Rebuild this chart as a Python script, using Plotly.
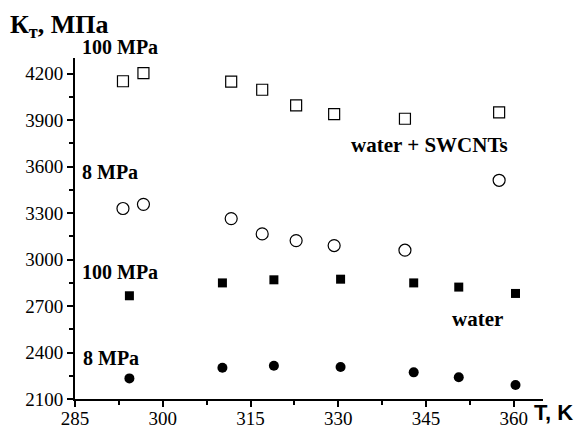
import plotly.graph_objects as go

# Data
T_swcnt = [293.2, 296.7, 311.7, 317.0, 322.8, 329.3, 341.4, 357.5]
K_swcnt_100 = [4150, 4203, 4147, 4095, 3994, 3938, 3908, 3949]
K_swcnt_8 = [3329, 3356, 3264, 3165, 3122, 3090, 3060, 3511]

T_water = [294.3, 310.2, 319.0, 330.4, 342.9, 350.6, 360.3]
K_water_100 = [2766, 2849, 2869, 2873, 2849, 2822, 2781]
K_water_8 = [2233, 2302, 2315, 2306, 2272, 2240, 2190]

x_ticks = [285, 300, 315, 330, 345, 360]
y_ticks = [2100, 2400, 2700, 3000, 3300, 3600, 3900, 4200]

SERIF = "Liberation Serif"

# page has an 8px body margin; figure is drawn from (8, 8)
OFF = 8
W, H = 584 - OFF, 428 - OFF
# plot area in page pixels
L, R, TOP, BOT = 75, 543, 58, 399

def px(xp):
    return (xp - L) / (R - L)

def py(yp):
    return (BOT - yp) / (BOT - TOP)

fig = go.Figure()
fig.add_trace(go.Scatter(x=T_swcnt, y=K_swcnt_100, mode="markers",
                         marker=dict(symbol="square-open", size=11, color="black", line=dict(width=1.2))))
fig.add_trace(go.Scatter(x=T_swcnt, y=K_swcnt_8, mode="markers",
                         marker=dict(symbol="circle-open", size=12, color="black", line=dict(width=1.2))))
fig.add_trace(go.Scatter(x=T_water, y=K_water_100, mode="markers",
                         marker=dict(symbol="square", size=9, color="black")))
fig.add_trace(go.Scatter(x=T_water, y=K_water_8, mode="markers",
                         marker=dict(symbol="circle", size=10, color="black")))

def lbl(xp, yp, text, size=21):
    fig.add_annotation(x=px(xp), y=py(yp), xref="paper", yref="paper", text=f"<b>{text}</b>",
                       showarrow=False, xanchor="center", yanchor="middle",
                       font=dict(family=SERIF, size=size, color="black"))

lbl(120, 47, "100 MPa", 20)
lbl(110, 172, "8 MPa", 20)
lbl(429, 145, "water + SWCNTs")
lbl(120, 272, "100 MPa", 20)
lbl(477, 319, "water")
lbl(111, 358, "8 MPa", 20)

fig.add_annotation(x=px(8), y=py(8), xref="paper", yref="paper", text="<b>К<sub>т</sub>, МПа</b>",
                   showarrow=False, xanchor="left", yanchor="top",
                   font=dict(family=SERIF, size=26, color="black"))
fig.add_annotation(x=px(532), y=py(427), xref="paper", yref="paper",
                   text="<b>T, K</b>", showarrow=False, xanchor="left", yanchor="bottom",
                   font=dict(family="Liberation Sans", size=22, color="black"))

axis_common = dict(showline=True, linecolor="black", linewidth=2, ticks="outside",
                   ticklen=6, tickwidth=1.5, tickcolor="black", showgrid=False, zeroline=False,
                   automargin=False,
                   tickfont=dict(family=SERIF, size=19, color="black"),
                   minor=dict(ticks="outside", ticklen=4, tickwidth=1.5, tickcolor="black", showgrid=False))

fig.update_xaxes(range=[285, 365], tickvals=x_ticks, ticktext=[str(v) for v in x_ticks],
                 minor_dtick=7.5, minor_tick0=285, ticklabelstandoff=-5, **axis_common)
fig.update_yaxes(range=[2100, 4300], tickvals=y_ticks, ticktext=[str(v) for v in y_ticks],
                 minor_dtick=150, minor_tick0=2100, **axis_common)

fig.update_layout(width=W, height=H, showlegend=False,
                  margin=dict(l=L - OFF, r=W - (R - OFF), t=TOP - OFF, b=H - (BOT - OFF), autoexpand=False),
                  plot_bgcolor="white", paper_bgcolor="white")

fig.write_html("out.html")
